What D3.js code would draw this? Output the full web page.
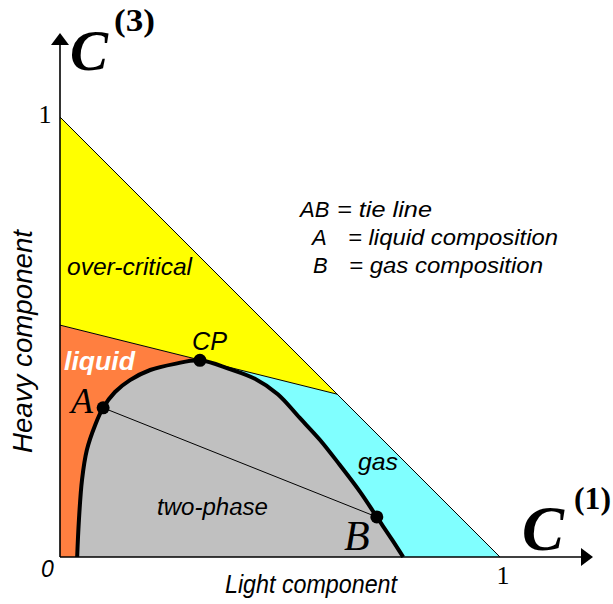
<!DOCTYPE html>
<html><head><meta charset="utf-8">
<script src="https://cdn.jsdelivr.net/npm/d3@7"></script>
<style>html,body{margin:0;padding:0;background:#fff;}svg{display:block;}</style>
</head><body>
<script>
// ---- data (composition fractions, C1 = light, C3 = heavy) ----
const envelopeX = [0.039, 0.043, 0.050, 0.061, 0.080, 0.098, 0.125, 0.159, 0.205, 0.261, 0.318, 0.386, 0.443, 0.495, 0.545, 0.591, 0.636, 0.682, 0.720, 0.755, 0.780];
const envelopeY = [0.000, 0.084, 0.175, 0.243, 0.300, 0.339, 0.375, 0.402, 0.425, 0.439, 0.447, 0.427, 0.405, 0.370, 0.316, 0.266, 0.209, 0.148, 0.091, 0.039, 0.000];
const boundaryX = [0.000, 0.630];   // over-critical boundary line
const boundaryY = [0.527, 0.370];
const pointNames = ["A", "CP", "B"];
const pointX = [0.098, 0.318, 0.720];
const pointY = [0.339, 0.447, 0.091];
const tickLabels = ["0", "1"];
const regionLabels = ["over-critical", "liquid", "two-phase", "gas"];
const legendKeys = ["AB", "A", "B"];
const legendTexts = ["= tie line", "= liquid composition", "= gas composition"];

const W = 613, H = 604;
const svg = d3.select("body").append("svg").attr("width", W).attr("height", H);
const x = d3.scaleLinear().domain([0, 1]).range([60, 500]);
const y = d3.scaleLinear().domain([0, 1]).range([557, 117]);

const sans = "'Liberation Sans', Arial, sans-serif";
const serif = "'Liberation Serif', 'Times New Roman', serif";

const poly = pts => "M" + pts.map(p => x(p[0]) + "," + y(p[1])).join("L") + "Z";
const lineAt = xv => boundaryY[0] + (boundaryY[1] - boundaryY[0]) * (xv - boundaryX[0]) / (boundaryX[1] - boundaryX[0]);
const cpx = pointX[1], cpy = lineAt(cpx);

// regions
svg.append("path").attr("d", poly([[0,0],[0,boundaryY[0]],[cpx,cpy],[cpx,0]])).attr("fill", "#FF7F40");
svg.append("path").attr("d", poly([[cpx,0],[cpx,cpy],[boundaryX[1],boundaryY[1]],[1,0]])).attr("fill", "#80FFFF");
svg.append("path").attr("d", poly([[0,boundaryY[0]],[0,1],[boundaryX[1],boundaryY[1]]])).attr("fill", "#FFFF00");

// thin lines
svg.append("line").attr("x1", x(0)).attr("y1", y(1)).attr("x2", x(1)).attr("y2", y(0)).attr("stroke", "#000").attr("stroke-width", 1);
svg.append("line").attr("x1", x(boundaryX[0])).attr("y1", y(boundaryY[0])).attr("x2", x(boundaryX[1])).attr("y2", y(boundaryY[1])).attr("stroke", "#000").attr("stroke-width", 1);

// two-phase envelope
const env = envelopeX.map((v, i) => [v, envelopeY[i]]);
const lineGen = d3.line().x(d => x(d[0])).y(d => y(d[1])).curve(d3.curveCatmullRom.alpha(0.5));
svg.append("path").attr("d", lineGen(env) + "Z").attr("fill", "#C0C0C0").attr("stroke", "none");
svg.append("path").attr("d", lineGen(env)).attr("fill", "none").attr("stroke", "#000").attr("stroke-width", 4);

// tie line
svg.append("line").attr("x1", x(pointX[0])).attr("y1", y(pointY[0])).attr("x2", x(pointX[2])).attr("y2", y(pointY[2])).attr("stroke", "#000").attr("stroke-width", 1);

// axes
svg.append("line").attr("x1", x(0)).attr("y1", y(0)).attr("x2", x(0)).attr("y2", 44).attr("stroke", "#000").attr("stroke-width", 1.6);
svg.append("line").attr("x1", x(0)).attr("y1", y(0)).attr("x2", 582).attr("y2", y(0)).attr("stroke", "#000").attr("stroke-width", 1.6);
svg.append("path").attr("d", `M${x(0)},33L${x(0)-9},45L${x(0)+9},45Z`).attr("fill", "#000");
svg.append("path").attr("d", `M593,${y(0)}L581,${y(0)-9}L581,${y(0)+9}Z`).attr("fill", "#000");

// points
svg.selectAll("circle.pt").data(pointNames).enter().append("circle")
  .attr("cx", (d, i) => x(pointX[i])).attr("cy", (d, i) => y(pointY[i])).attr("r", 6.5).attr("fill", "#000");

function txt(s, px, py, o) {
  const t = svg.append("text").attr("x", px).attr("y", py).text(s)
    .attr("font-family", o.family || sans).attr("font-size", o.size)
    .attr("font-style", o.style || "italic").attr("font-weight", o.weight || "normal")
    .attr("fill", o.fill || "#000").attr("text-anchor", o.anchor || "start");
  if (o.len) t.attr("textLength", o.len).attr("lengthAdjust", "spacingAndGlyphs");
  if (o.transform) t.attr("transform", o.transform);
  return t;
}

// axis titles
txt("C", 70, 70, {family: serif, size: 57, weight: "bold"});
txt("(3)", 114, 31, {family: serif, size: 31, weight: "bold", style: "normal", len: 41});
txt("C", 522, 550, {family: serif, size: 63, weight: "bold"});
txt("(1)", 574, 509, {family: serif, size: 31, weight: "bold", style: "normal", len: 37});
txt("Light component", 225, 593, {size: 25, len: 172});
txt("Heavy component", 0, 0, {size: 27, len: 223, transform: "translate(32,453) rotate(-90)"});

// ticks
txt(tickLabels[0], 41, 577, {size: 23});
txt(tickLabels[1], 45, 123, {family: serif, size: 26, style: "normal", anchor: "middle"});
txt(tickLabels[1], 503, 584, {family: serif, size: 26, style: "normal", anchor: "middle"});

// region labels
txt(regionLabels[0], 67, 275, {size: 24, len: 125});
txt(regionLabels[1], 64, 370, {size: 26, weight: "bold", fill: "#fff", len: 71});
txt(regionLabels[2], 157, 515, {size: 23, len: 111});
txt(regionLabels[3], 358, 470, {size: 24, len: 40});

// point labels
txt(pointNames[1], 192, 350, {size: 25, len: 35});
txt(pointNames[0], 71, 413, {family: serif, size: 36});
txt(pointNames[2], 344, 550, {family: serif, size: 42});

// legend
const lgX = [300, 312, 313], lgRest = [337, 348, 349], lgEnd = [432, 558, 543], lgY = [217, 245, 273];
legendKeys.forEach((k, i) => {
  txt(k, lgX[i], lgY[i], {size: 22});
  txt(legendTexts[i], lgRest[i], lgY[i], {size: 22, len: lgEnd[i] - lgRest[i]});
});
</script>
</body></html>
